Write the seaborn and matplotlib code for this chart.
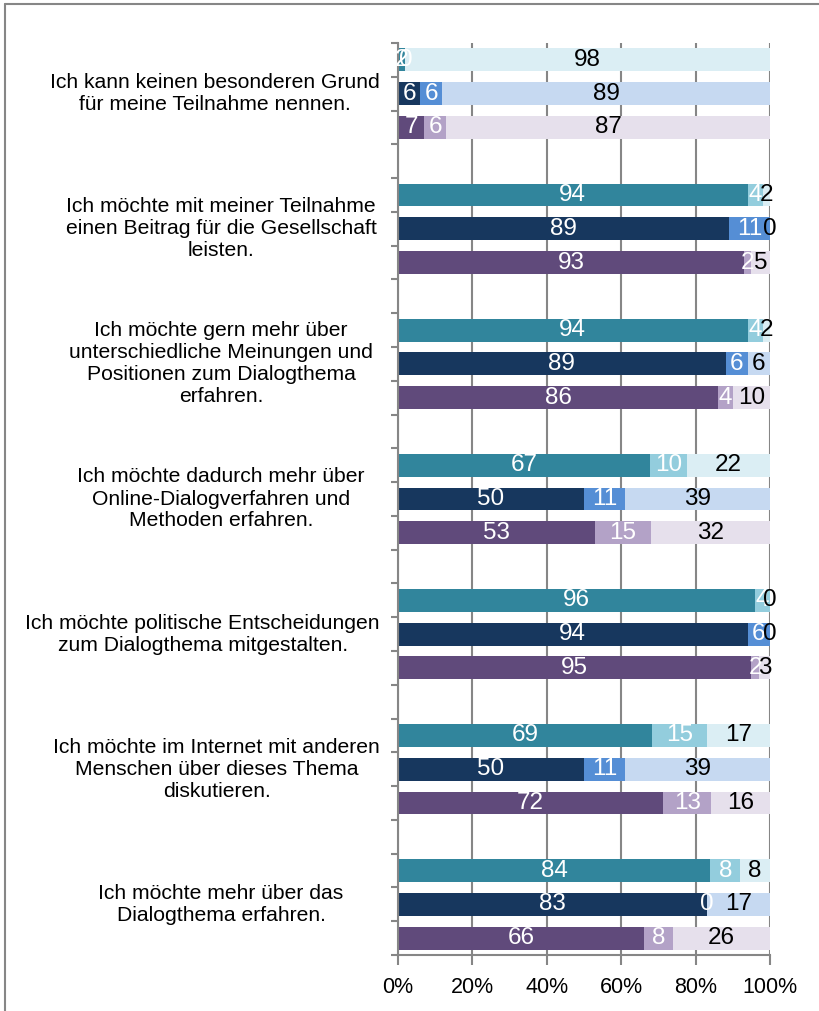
import numpy as np
import pandas as pd
import matplotlib
matplotlib.use("Agg")
import matplotlib.pyplot as plt
import matplotlib.transforms as mtransforms
from matplotlib.lines import Line2D
import seaborn as sns

categories = [
    "Ich kann keinen besonderen Grund\nfür meine Teilnahme nennen.",
    "Ich möchte mit meiner Teilnahme\neinen Beitrag für die Gesellschaft\nleisten.",
    "Ich möchte gern mehr über\nunterschiedliche Meinungen und\nPositionen zum Dialogthema\nerfahren.",
    "Ich möchte dadurch mehr über\nOnline-Dialogverfahren und\nMethoden erfahren.",
    "Ich möchte politische Entscheidungen\nzum Dialogthema mitgestalten.",
    "Ich möchte im Internet mit anderen\nMenschen über dieses Thema\ndiskutieren.",
    "Ich möchte mehr über das\nDialogthema erfahren.",
]
series = ["teal", "navy", "purple"]

teal_dark = [2, 94, 94, 67, 96, 69, 84]
teal_mid = [0, 4, 4, 10, 4, 15, 8]
teal_light = [98, 2, 2, 22, 0, 17, 8]
navy_dark = [6, 89, 89, 50, 94, 50, 83]
navy_mid = [6, 11, 6, 11, 6, 11, 0]
navy_light = [89, 0, 6, 39, 0, 39, 17]
purple_dark = [7, 93, 86, 53, 95, 72, 66]
purple_mid = [6, 2, 4, 15, 2, 13, 8]
purple_light = [87, 5, 10, 32, 3, 16, 26]

xtick_values = [0, 20, 40, 60, 80, 100]
xtick_labels = ["0%", "20%", "40%", "60%", "80%", "100%"]

dark_colors = {"teal": "#31859C", "navy": "#17375E", "purple": "#604A7B"}
mid_colors = {"teal": "#93CDDD", "navy": "#558ED5", "purple": "#B3A2C7"}
light_colors = {"teal": "#DBEEF4", "navy": "#C6D9F1", "purple": "#E6E0EC"}

data_by_series = {
    "teal": (teal_dark, teal_mid, teal_light),
    "navy": (navy_dark, navy_mid, navy_light),
    "purple": (purple_dark, purple_mid, purple_light),
}

rows = []
for g in range(len(categories)):
    for s, name in enumerate(series):
        d, m, l = (arr[g] for arr in data_by_series[name])
        tot = d + m + l
        rows.append(dict(group=g, series=name, pos=4 * g + s,
                         dark=d, mid=m, light=l,
                         c1=d / tot * 100, c2=(d + m) / tot * 100, c3=100.0))
df = pd.DataFrame(rows)

sns.set_theme(style="white")
plt.rcParams["font.family"] = ["Liberation Sans", "DejaVu Sans"]

W, H = 820, 1011
fig = plt.figure(figsize=(W / 100, H / 100), dpi=100)
ax_left_px, ax_right_px = 398, 770
ax = fig.add_axes([ax_left_px / W, 1 - 955 / H, (ax_right_px - ax_left_px) / W, 912 / H])

for col, pal in (("c3", light_colors), ("c2", mid_colors), ("c1", dark_colors)):
    sns.barplot(data=df, x=col, y="pos", hue="series", palette=pal,
                orient="h", native_scale=True, dodge=False, width=0.68,
                linewidth=0, saturation=1, errorbar=None, legend=False, ax=ax)

# data labels
for _, r in df.iterrows():
    starts = [0, r.c1, r.c2]
    ends = [r.c1, r.c2, r.c3]
    vals = [r.dark, r.mid, r.light]
    cols = ["white", "white", "black"]
    for a, b, v, c in zip(starts, ends, vals, cols):
        ax.text((a + b) / 2, r.pos, f"{int(v)}", ha="center", va="center",
                color=c, fontsize=17.5)

grey = "#868686"
ax.set_xlim(0, 100)
ax.set_ylim(26.5, -0.5)
ax.set_xticks(xtick_values)
ax.set_xticklabels(xtick_labels, fontsize=15.5)
ax.set_yticks(np.arange(-0.5, 27.0, 1.0))
ax.set_yticklabels([])
ax.set_xlabel("")
ax.set_ylabel("")
ax.set_axisbelow(True)
ax.grid(axis="x", color=grey, linewidth=1.5)
ax.grid(axis="y", visible=False)
for sp in ("top", "right"):
    ax.spines[sp].set_visible(False)
for sp in ("left", "bottom"):
    ax.spines[sp].set_color(grey)
    ax.spines[sp].set_linewidth(1.5)
ax.tick_params(axis="x", bottom=True, length=7, width=1.5, color=grey,
               direction="out", pad=9, labelcolor="black")
ax.tick_params(axis="y", left=True, length=5, width=1.5, color=grey,
               direction="out")

# category labels: centred in the label area, but kept left of the axis
axw = ax_right_px - ax_left_px
center_px, max_right_px = 221, 380
trans = mtransforms.blended_transform_factory(ax.transAxes, ax.transData)
fig.canvas.draw()
renderer = fig.canvas.get_renderer()
for g, cat in enumerate(categories):
    t = ax.text((center_px - ax_left_px) / axw, 4 * g + 1, cat, transform=trans,
                ha="center", va="center", multialignment="center",
                fontsize=15.2, linespacing=1.2, color="black")
    bb = t.get_window_extent(renderer)
    if bb.x1 > max_right_px:
        t.set_ha("right")
        t.set_x((max_right_px - ax_left_px) / axw)

# outer chart-area frame (left and top edges visible)
fx = 5 / W
fy = 1 - 4 / H
fig.add_artist(Line2D([fx, fx], [0, fy], transform=fig.transFigure,
                      color=grey, linewidth=1.5))
fig.add_artist(Line2D([fx, 1], [fy, fy], transform=fig.transFigure,
                      color=grey, linewidth=1.5))

fig.savefig("out.png", dpi=100)
